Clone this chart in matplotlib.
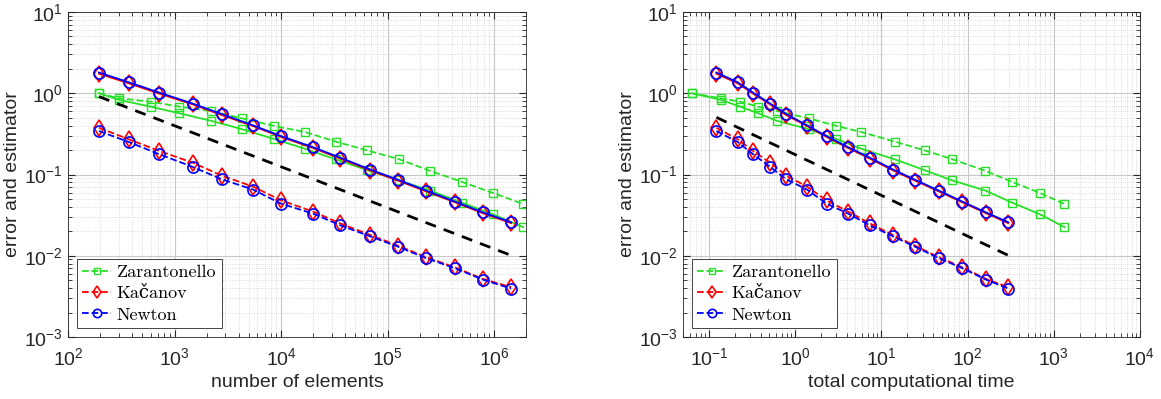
import matplotlib
matplotlib.use("Agg")
import matplotlib.pyplot as plt
from matplotlib.font_manager import FontProperties
from matplotlib.ticker import LogLocator, NullFormatter

plt.rcParams['font.family'] = ['Liberation Sans', 'DejaVu Sans']
plt.rcParams['mathtext.fontset'] = 'custom'
plt.rcParams['mathtext.rm'] = 'Liberation Sans'
plt.rcParams['mathtext.it'] = 'Liberation Sans:italic'

# number of elements / computational time for Kacanov + Newton
n_elem = [195, 375, 717, 1480, 2770, 5450, 10000, 20000, 36000, 69000,
          126000, 230000, 430000, 780000, 1450000]
t_kn = [0.122, 0.217, 0.324, 0.513, 0.787, 1.37, 2.31, 4.11, 7.34, 13.7,
        24.6, 46.3, 87, 162, 297]

newton_est = [1.80, 1.36, 1.02, 0.746, 0.556, 0.403, 0.297, 0.217, 0.161, 0.115,
              0.086, 0.0634, 0.0464, 0.0343, 0.0258]
kacanov_est = [1.74, 1.32, 0.99, 0.73, 0.54, 0.395, 0.29, 0.212, 0.157, 0.112,
               0.084, 0.062, 0.0455, 0.0335, 0.0252]
newton_err = [0.343, 0.250, 0.178, 0.124, 0.0875, 0.0653, 0.0438, 0.033, 0.0237, 0.0173,
              0.0129, 0.00934, 0.00703, 0.0051, 0.00394]
kacanov_err = [0.376, 0.27, 0.195, 0.14, 0.097, 0.071, 0.048, 0.035, 0.025, 0.018,
               0.0133, 0.0096, 0.0072, 0.0052, 0.0041]

# Zarantonello
n_zar = [195, 300, 597, 1110, 2190, 4340, 8510, 16800, 33100, 64500,
         127000, 251000, 501000, 977000, 1880000]
t_zar = [0.063, 0.138, 0.23, 0.373, 0.61, 1.45, 2.97, 5.87, 14.5, 31.8,
         65.5, 161, 330, 690, 1330]
zar_dash = [1.0, 0.867, 0.788, 0.684, 0.605, 0.49, 0.398, 0.333, 0.253, 0.198,
            0.155, 0.111, 0.081, 0.0593, 0.0434]
zar_solid = [1.0, 0.83, 0.684, 0.567, 0.459, 0.36, 0.275, 0.207, 0.153, 0.113,
             0.085, 0.0634, 0.045, 0.0324, 0.0225]

# slope reference lines (end points)
ref_left_x = [195, 1450000]
ref_left_y = [0.91, 0.0101]
ref_right_x = [0.122, 297]
ref_right_y = [0.505, 0.0101]

legend_labels = ['Zarantonello', 'Kačanov', 'Newton']

GREEN = (0.15, 0.88, 0.15)
RED = (1, 0, 0)
BLUE = (0, 0, 1)

fig = plt.figure(figsize=(11.61, 3.99), dpi=100)
ax1 = fig.add_axes([0.0586, 0.1554, 0.3945, 0.8145])
ax2 = fig.add_axes([0.5883, 0.1554, 0.3936, 0.8145])

legprop = FontProperties(family=['cmr10', 'DejaVu Serif'], size=13)


def draw(ax, x_kn, x_zar, rx, ry, xlim, xlabel):
    lw = 1.3
    ax.plot(x_zar, zar_solid, '-', color=GREEN, lw=lw, marker='s', ms=6, mfc='none', mew=1)
    ax.plot(x_zar, zar_dash, '--', color=GREEN, lw=lw, marker='s', ms=6, mfc='none', mew=1,
            label=legend_labels[0])
    ax.plot(x_kn, kacanov_est, '-', color=RED, lw=lw, marker='d', ms=8, mfc='none', mew=1.2)
    ax.plot(x_kn, kacanov_err, '--', color=RED, lw=lw, marker='d', ms=8, mfc='none', mew=1.2,
            label=legend_labels[1])
    ax.plot(x_kn, newton_est, '-', color=BLUE, lw=lw, marker='o', ms=8, mfc='none', mew=1.2)
    ax.plot(x_kn, newton_err, '--', color=BLUE, lw=lw, marker='o', ms=8, mfc='none', mew=1.2,
            label=legend_labels[2])
    ax.plot(rx, ry, '--', color='black', lw=2, dashes=(4, 3))

    ax.set_xscale('log')
    ax.set_yscale('log')
    ax.set_xlim(*xlim)
    ax.set_ylim(1e-3, 1e1)
    ax.xaxis.set_major_locator(LogLocator(base=10, numticks=20))
    ax.xaxis.set_minor_locator(LogLocator(base=10, subs=range(2, 10), numticks=20))
    ax.yaxis.set_minor_locator(LogLocator(base=10, subs=range(2, 10), numticks=20))
    ax.xaxis.set_minor_formatter(NullFormatter())
    ax.yaxis.set_minor_formatter(NullFormatter())
    ax.grid(True, which='major', color='#c8c8c8', lw=0.8)
    ax.grid(True, which='minor', color='#d0d0d0', lw=0.6, ls=':')
    ax.set_axisbelow(True)
    ax.tick_params(which='both', direction='in', top=True, right=True, colors='#262626',
                   labelsize=14)
    ax.tick_params(which='major', length=5)
    ax.tick_params(axis='x', which='major', pad=7)
    ax.tick_params(axis='y', which='major', pad=4)
    ax.tick_params(which='minor', length=3)
    for s in ax.spines.values():
        s.set_color('#262626')
        s.set_linewidth(0.6)
    ax.set_xlabel(xlabel, fontsize=14, color='#262626', labelpad=4)
    ax.set_ylabel('error and estimator', fontsize=14, color='#262626')
    ax.yaxis.set_label_coords(-0.103, 0.5)
    leg = ax.legend(loc='lower left', prop=legprop, handlelength=1.6, handletextpad=0.3,
                    borderpad=0.3, labelspacing=0.3, fancybox=False, framealpha=1,
                    borderaxespad=0.5, markerscale=0.75)
    leg.get_frame().set_edgecolor('#262626')
    leg.get_frame().set_linewidth(0.6)


draw(ax1, n_elem, n_zar, ref_left_x, ref_left_y, (1e2, 2e6), 'number of elements')
draw(ax2, t_kn, t_zar, ref_right_x, ref_right_y, (0.05, 1e4), 'total computational time')

fig.savefig('out.png', dpi=100)
